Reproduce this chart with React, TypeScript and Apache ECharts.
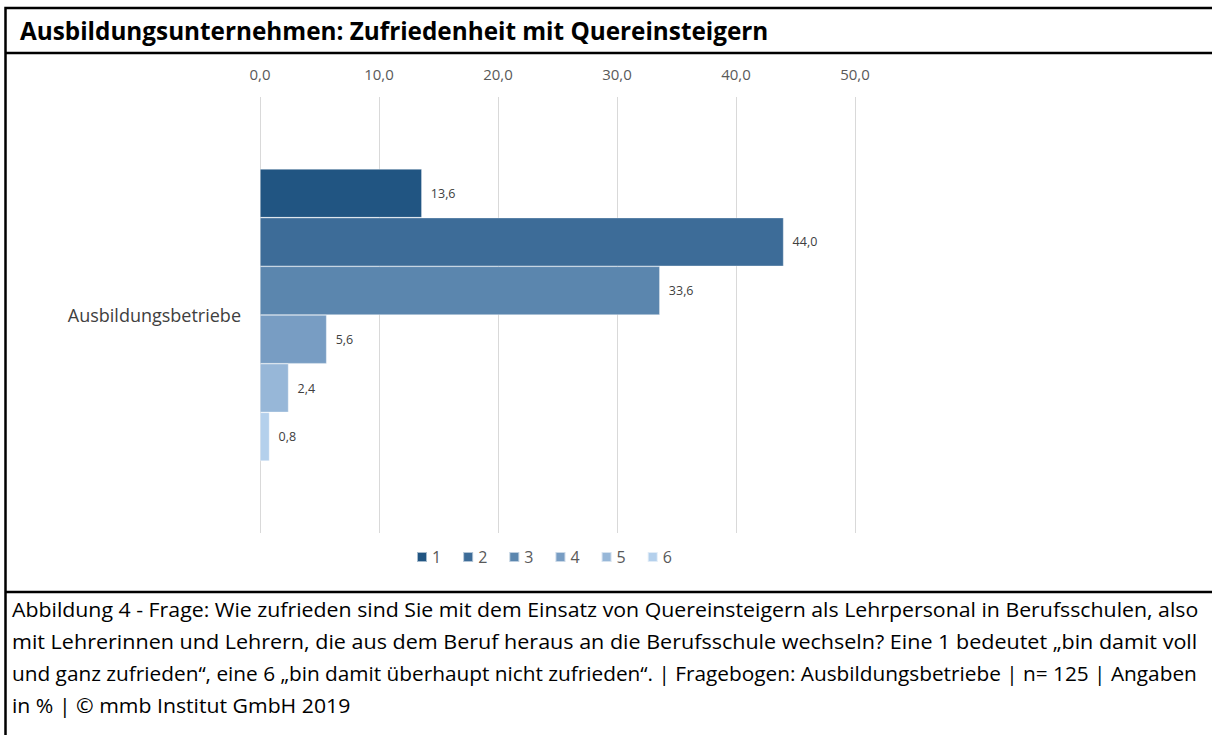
import React, { useEffect, useRef } from "react";
import * as echarts from "echarts";

const categories = ["Ausbildungsbetriebe"];
const seriesNames = ["1", "2", "3", "4", "5", "6"];
const seriesValues = [13.6, 44.0, 33.6, 5.6, 2.4, 0.8];
const seriesColors = ["#215582", "#3d6c98", "#5b86ae", "#789dc3", "#97b7d8", "#b4d0ec"];
const titleText = "Ausbildungsunternehmen: Zufriedenheit mit Quereinsteigern";
const captionLines = [
  "Abbildung 4 - Frage: Wie zufrieden sind Sie mit dem Einsatz von Quereinsteigern als Lehrpersonal in Berufsschulen, also",
  "mit Lehrerinnen und Lehrern, die aus dem Beruf heraus an die Berufsschule wechseln? Eine 1 bedeutet \u201Ebin damit voll",
  "und ganz zufrieden\u201C, eine 6 \u201Ebin damit \u00FCberhaupt nicht zufrieden\u201C. | Fragebogen: Ausbildungsbetriebe | n= 125 | Angaben",
  "in % | \u00A9 mmb Institut GmbH 2019",
];

const FONT = "'Open Sans', 'Noto Sans', sans-serif";
const fmt = (v: number) => v.toFixed(1).replace(".", ",");

function measure(text: string, font: string): number {
  const c = document.createElement("canvas");
  const ctx = c.getContext("2d");
  if (!ctx) return text.length * 9;
  ctx.font = font;
  return ctx.measureText(text).width;
}

export default function App() {
  const ref = useRef<HTMLDivElement>(null);
  useEffect(() => {
    if (!ref.current) return;
    const chart = echarts.init(ref.current, undefined, { renderer: "svg" });

    const capFont = `20px ${FONT}`;
    const capLeft = 12;
    const capRight = 1198;
    const widths = captionLines.map((t) => measure(t, capFont));
    const scales = widths.map((w) => (capRight - capLeft) / w);
    const avgScale = (scales[0] + scales[1] + scales[2]) / 3;

    const option: any = {
      animation: false,
      backgroundColor: "#ffffff",
      textStyle: { fontFamily: FONT },
      grid: { left: 260, top: 97, width: 595, height: 436, containLabel: false },
      xAxis: {
        type: "value",
        position: "top",
        min: 0,
        max: 50,
        interval: 10,
        axisLine: { show: false },
        axisTick: { show: false },
        splitLine: { lineStyle: { color: "#d9d9d9", width: 1 } },
        axisLabel: { formatter: (v: number) => fmt(v), color: "#595959", fontSize: 15, margin: 16, fontFamily: FONT },
      },
      yAxis: {
        type: "category",
        data: categories,
        inverse: true,
        axisLine: { show: false },
        axisTick: { show: false },
        axisLabel: { color: "#404040", fontSize: 18, margin: 19, fontFamily: FONT },
      },
      legend: {
        left: 411,
        top: 544,
        icon: "rect",
        itemWidth: 10,
        itemHeight: 10,
        itemGap: 21,
        textStyle: { color: "#595959", fontSize: 16, fontFamily: FONT },
        data: seriesNames,
      },
      series: seriesNames.map((name, i) => ({
        type: "bar",
        name,
        data: [seriesValues[i]],
        barGap: "0%",
        barCategoryGap: "33%",
        itemStyle: { color: seriesColors[i], borderColor: "rgba(255,255,255,0.6)", borderWidth: 0.6 },
        label: {
          show: true,
          position: "right",
          distance: 9,
          formatter: (p: any) => fmt(p.value),
          color: "#404040",
          fontSize: 12.5,
          fontFamily: FONT,
        },
      })),
      graphic: [
        {
          type: "rect",
          shape: { x: 5.5, y: 8, width: 1220, height: 740 },
          style: { fill: "none", stroke: "#000", lineWidth: 2.5 },
          silent: true,
        },
        {
          type: "line",
          shape: { x1: 5, y1: 53, x2: 1212, y2: 53 },
          style: { stroke: "#000", lineWidth: 2.5 },
          silent: true,
        },
        {
          type: "line",
          shape: { x1: 5, y1: 592, x2: 1212, y2: 592 },
          style: { stroke: "#000", lineWidth: 2.5 },
          silent: true,
        },
        {
          type: "text",
          x: 20,
          y: 30,
          style: {
            text: titleText,
            font: `bold 24.3px ${FONT}`,
            fill: "#000",
            textVerticalAlign: "middle",
          },
        },
        ...captionLines.map((t, i) => ({
          type: "text",
          x: capLeft,
          y: 609 + i * 32,
          scaleX: i < 3 ? scales[i] : avgScale,
          style: {
            text: t,
            font: capFont,
            fill: "#000",
            textVerticalAlign: "middle",
          },
        })),
      ],
    };
    chart.setOption(option);
    return () => chart.dispose();
  }, []);
  return (
    <div
      ref={ref}
      style={{ position: "fixed", left: 0, top: 0, width: 1212, height: 735, background: "#fff" }}
    />
  );
}
